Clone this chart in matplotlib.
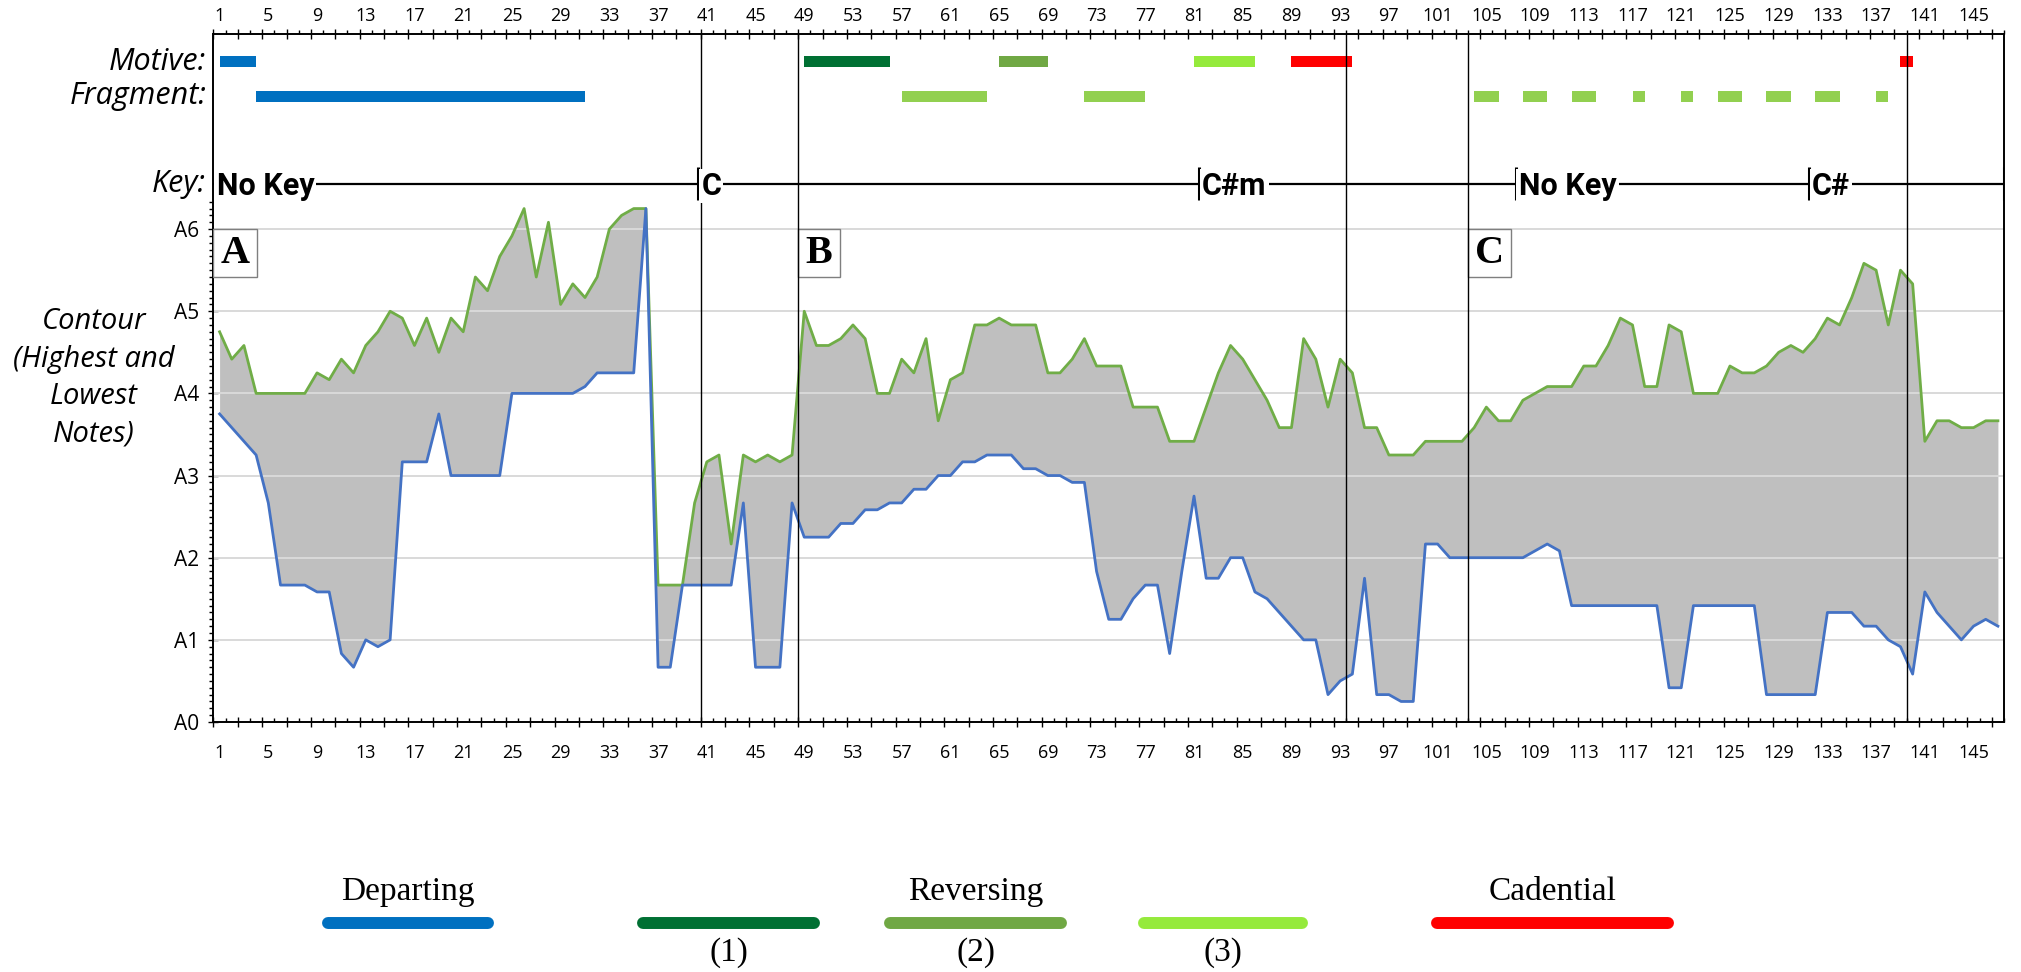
import numpy as np
import matplotlib
matplotlib.use("Agg")
import matplotlib.pyplot as plt
from matplotlib.patches import Rectangle
from matplotlib.lines import Line2D

# contour data, semitones above A0, one value per bar 1..147
high = [57, 53, 55, 48, 48, 48, 48, 48, 51, 50, 53, 51, 55, 57, 60, 59, 55, 59, 54, 59,
        57, 65, 63, 68, 71, 75, 65, 73, 61, 64, 62, 65, 72, 74, 75, 75, 20, 20, 20, 32,
        38, 39, 26, 39, 38, 39, 38, 39, 60, 55, 55, 56, 58, 56, 48, 48, 53, 51, 56, 44,
        50, 51, 58, 58, 59, 58, 58, 58, 51, 51, 53, 56, 52, 52, 52, 46, 46, 46, 41, 41,
        41, 46, 51, 55, 53, 50, 47, 43, 43, 56, 53, 46, 53, 51, 43, 43, 39, 39, 39, 41,
        41, 41, 41, 43, 46, 44, 44, 47, 48, 49, 49, 49, 52, 52, 55, 59, 58, 49, 49, 58,
        57, 48, 48, 48, 52, 51, 51, 52, 54, 55, 54, 56, 59, 58, 62, 67, 66, 58, 66, 64,
        41, 44, 44, 43, 43, 44, 44]
low = [45, 43, 41, 39, 32, 20, 20, 20, 19, 19, 10, 8, 12, 11, 12, 38, 38, 38, 45, 36,
       36, 36, 36, 36, 48, 48, 48, 48, 48, 48, 49, 51, 51, 51, 51, 75, 8, 8, 20, 20,
       20, 20, 20, 32, 8, 8, 8, 32, 27, 27, 27, 29, 29, 31, 31, 32, 32, 34, 34, 36,
       36, 38, 38, 39, 39, 39, 37, 37, 36, 36, 35, 35, 22, 15, 15, 18, 20, 20, 10, 22,
       33, 21, 21, 24, 24, 19, 18, 16, 14, 12, 12, 4, 6, 7, 21, 4, 4, 3, 3, 26,
       26, 24, 24, 24, 24, 24, 24, 24, 25, 26, 25, 17, 17, 17, 17, 17, 17, 17, 17, 5,
       5, 17, 17, 17, 17, 17, 17, 4, 4, 4, 4, 4, 16, 16, 16, 14, 14, 12, 11, 7,
       19, 16, 14, 12, 14, 15, 14]
bars = np.arange(1, len(high) + 1)

octave_labels = ["A0", "A1", "A2", "A3", "A4", "A5", "A6"]

# section borders and letters
section_lines = [40.5, 48.5, 93.5, 103.5, 139.5]
section_letters = ["A", "B", "C"]
section_starts = [0.5, 48.5, 103.5]
section_widths = [3.6, 3.45, 3.5]

# motives (start, end, colour)
motives = [(1, 4, "#0070C0"), (49, 56, "#007033"), (65, 69, "#70A844"),
           (81, 86, "#95EA3C"), (89, 94, "#FF0000"), (139, 140, "#FF0000")]
fragments = [(4, 31, "#0070C0"), (57, 64, "#92D050"), (72, 77, "#92D050"),
             (104, 106, "#92D050"), (108, 110, "#92D050"), (112, 114, "#92D050"),
             (117, 118, "#92D050"), (121, 122, "#92D050"), (124, 126, "#92D050"),
             (128, 130, "#92D050"), (132, 134, "#92D050"), (137, 138, "#92D050")]

# keys
key_names = ["No Key", "C", "C#m", "No Key", "C#"]
key_starts = [0.5, 40.3, 81.4, 107.4, 131.5]
key_end = 147.5

# legend
legend_top = ["Departing", "", "Reversing", "", "Cadential"]
legend_bottom = ["", "(1)", "(2)", "(3)", ""]
legend_colors = ["#0070C0", "#007033", "#70A844", "#95EA3C", "#FF0000"]

SANS = "Open Sans"
SERIF = "Liberation Serif"

fig = plt.figure(figsize=(20.21, 9.72), dpi=100)
ax = fig.add_axes([0.10564, 0.25720, 0.88595, 0.70782])
ax.set_xlim(0.5, 147.5)
ax.set_ylim(0, 100.5)

# contour
ax.fill_between(bars, low, high, color="#BFBFBF", lw=0, zorder=1)
for s in range(12, 73, 12):
    ax.axhline(s, color="#D9D9D9", lw=1.4, zorder=2)
ax.plot(bars, high, color="#70AD47", lw=2.0, zorder=3)
ax.plot(bars, low, color="#4472C4", lw=2.0, zorder=3)

for xv in section_lines:
    ax.axvline(xv, color="black", lw=1.0, zorder=5)

for letter, x0, w in zip(section_letters, section_starts, section_widths):
    ax.add_patch(Rectangle((x0, 65), w, 7, facecolor="white", edgecolor="#7F7F7F",
                           lw=1.0, zorder=4))
    ax.text(x0 + w / 2, 68.4, letter, ha="center", va="center", fontsize=29,
            fontweight="bold", family=SERIF, zorder=6)

# motive / fragment rows
for a, b, c in motives:
    ax.barh(96.45, b - a, left=a, height=1.6, color=c, zorder=4)
for a, b, c in fragments:
    ax.barh(91.4, b - a, left=a, height=1.6, color=c, zorder=4)

# key row
key_y = 78.6
ax.plot([0.5, key_end], [key_y, key_y], color="black", lw=1.6, zorder=4)
for xs in key_starts[1:] + [key_end]:
    ax.plot([xs, xs], [76.2, 81.0], color="black", lw=2.2, zorder=4,
            solid_capstyle="butt")
for name, xs in zip(key_names, key_starts):
    ax.text(xs + 0.25, key_y - 1.6, name, ha="left", va="baseline", fontsize=22,
            fontweight="bold", family="Roboto", zorder=5,
            bbox=dict(facecolor="white", edgecolor="none", pad=1.5))

# row labels
for lbl, yv in [("Motive:", 96.45), ("Fragment:", 91.4), ("Key:", 78.6)]:
    ax.text(-0.1, yv, lbl, ha="right", va="center", fontsize=22, style="italic",
            family=SANS, clip_on=False)

fig.text(94 / 2021, 1 - 378 / 972, "Contour\n(Highest and\nLowest\nNotes)",
         ha="center", va="center", fontsize=21, style="italic", family=SANS,
         linespacing=1.38)

# axes styling
for sp in ax.spines.values():
    sp.set_linewidth(1.4)
ax.set_yticks(range(0, 73, 12), octave_labels)
ax.set_yticks(range(0, 77), minor=True)
ax.tick_params(axis="y", which="major", direction="inout", length=7, width=1.0,
               labelsize=15, pad=7)
ax.tick_params(axis="y", which="minor", direction="out", length=3, width=1.0)
for lab in ax.get_yticklabels():
    lab.set_family(SANS)

even_b = np.arange(0.5, 148, 2)
odd_b = np.arange(1.5, 148, 2)
ax.set_xticks(even_b, [])
ax.set_xticks(odd_b, minor=True)
ax.tick_params(axis="x", which="major", direction="inout", length=7, width=1.0)
ax.tick_params(axis="x", which="minor", direction="in", length=3, width=1.0)

top = ax.secondary_xaxis("top")
top.set_xticks(even_b, [])
top.set_xticks(odd_b, minor=True)
top.tick_params(which="major", direction="inout", length=7, width=1.0)
top.tick_params(which="minor", direction="out", length=3, width=1.0)

label_pos = np.arange(1, 148, 4)
for side, pad in [("top", 6.5), ("bottom", 16)]:
    sec = ax.secondary_xaxis(side)
    sec.set_xticks(label_pos, [str(v) for v in label_pos])
    sec.tick_params(length=0, pad=pad, labelsize=13)
    for lab in sec.get_xticklabels():
        lab.set_family(SANS)
for sec in [top] + [c for c in ax.child_axes]:
    for sp in sec.spines.values():
        sp.set_visible(False)

# legend drawn in pixel space
lax = fig.add_axes([0, 0, 1, 1])
lax.set_xlim(0, 2021)
lax.set_ylim(972, 0)
lax.axis("off")
leg_x0 = [322, 637, 884, 1138, 1431]
leg_x1 = [494, 820, 1067, 1308, 1674]
for x0, x1, c, t, b in zip(leg_x0, leg_x1, legend_colors, legend_top, legend_bottom):
    lax.add_line(Line2D([x0 + 6, x1 - 6], [923, 923], color=c, lw=8.6,
                        solid_capstyle="round"))
    if t:
        lax.text((x0 + x1) / 2, 892, t, ha="center", va="center", fontsize=24,
                 family=SERIF)
    if b:
        lax.text((x0 + x1) / 2, 953, b, ha="center", va="center", fontsize=24,
                 family=SERIF)

fig.savefig("out.png", dpi=100)
